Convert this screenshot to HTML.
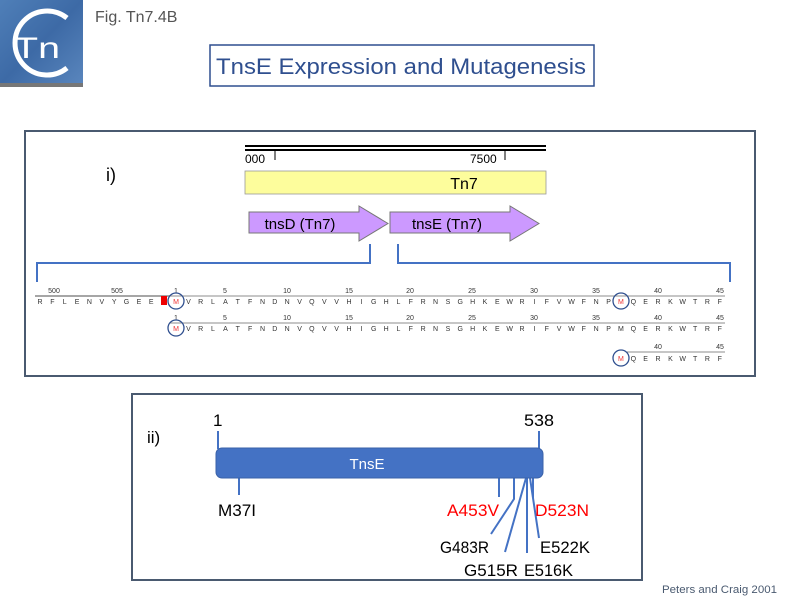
<!DOCTYPE html>
<html><head><meta charset="utf-8"><style>
html,body{margin:0;padding:0;background:#fff;}
svg{display:block;font-family:"Liberation Sans",sans-serif;}
</style></head><body>
<svg width="800" height="600" viewBox="0 0 800 600" xmlns="http://www.w3.org/2000/svg">
<defs>
<linearGradient id="lg" x1="0" y1="0" x2="1" y2="1">
<stop offset="0" stop-color="#4f7fb8"/><stop offset="0.5" stop-color="#3d6aa6"/><stop offset="1" stop-color="#5a86bd"/>
</linearGradient>
</defs>
<rect x="0" y="0" width="83" height="85" fill="url(#lg)"/>
<rect x="0" y="83" width="83" height="4" fill="#777"/>
<path d="M67 18 A32 32 0 1 0 67 68" fill="none" stroke="#fff" stroke-width="5"/>
<text x="14" y="58" font-size="30" fill="#fff" textLength="46" lengthAdjust="spacingAndGlyphs">Tn</text>
<text x="95" y="22" font-size="16" fill="#555">Fig. Tn7.4B</text>
<rect x="210" y="45" width="384" height="41" fill="#fff" stroke="#2f4f8f" stroke-width="1.5"/>
<text x="216" y="74" font-size="22" fill="#2f4f8f" textLength="370" lengthAdjust="spacingAndGlyphs">TnsE Expression and Mutagenesis</text>
<rect x="25" y="131" width="730" height="245" fill="#fff" stroke="#4a5a70" stroke-width="2"/>
<text x="106" y="181" font-size="18" fill="#000">i)</text>
<rect x="245" y="145" width="301" height="2" fill="#000"/>
<rect x="245" y="149" width="301" height="2" fill="#000"/>
<text x="245" y="163" font-size="12" fill="#000">000</text>
<line x1="275" y1="150" x2="275" y2="160" stroke="#000"/>
<text x="470" y="163" font-size="12" fill="#000">7500</text>
<line x1="505" y1="150" x2="505" y2="160" stroke="#000"/>
<rect x="245" y="171" width="301" height="23" fill="#fdfd9c" stroke="#999" stroke-width="0.8"/>
<text x="464" y="189" font-size="16" fill="#000" text-anchor="middle">Tn7</text>
<path d="M249 212 H359 V206 L388 223.5 L359 241 V233 H249 Z" fill="#cc99ff" stroke="#777"/>
<text x="300" y="229" font-size="15" fill="#000" text-anchor="middle">tnsD (Tn7)</text>
<path d="M390 212 H510 V206 L539 223.5 L510 241 V233 H390 Z" fill="#cc99ff" stroke="#777"/>
<text x="447" y="229" font-size="15" fill="#000" text-anchor="middle">tnsE (Tn7)</text>
<path d="M37 282 V263 H370 V244" fill="none" stroke="#4472c4" stroke-width="2"/>
<path d="M398 244 V263 H730 V282" fill="none" stroke="#4472c4" stroke-width="2"/>
<g font-size="7" fill="#333" text-anchor="middle">
<line x1="35" y1="296" x2="170" y2="296" stroke="#888" stroke-width="1.5"/>
<line x1="170" y1="296" x2="725" y2="296" stroke="#666" stroke-width="0.8"/>
<text x="54" y="293" font-size="7">500</text><text x="117" y="293" font-size="7">505</text>
<text x="176" y="293">1</text><text x="225" y="293">5</text><text x="287" y="293">10</text><text x="349" y="293">15</text><text x="410" y="293">20</text><text x="472" y="293">25</text><text x="534" y="293">30</text><text x="596" y="293">35</text><text x="658" y="293">40</text><text x="720" y="293">45</text>
<text y="304" x="40.0 52.4 64.7 77.1 89.4 101.8 114.2 126.5 138.9 151.2">RFLENVYGEE</text>
<rect x="161" y="296" width="6" height="9" fill="#e00"/>
<text x="176" y="304" fill="#e33">M</text>
<text y="304" x="188.4 200.7 213.0 225.4 237.8 250.1 262.5 274.8 287.2 299.6 311.9 324.3 336.6 349.0 361.4 373.7 386.1 398.4 410.8 423.2 435.5 447.9 460.2 472.6 485.0 497.3 509.7 522.0 534.4 546.8 559.1 571.5 583.8 596.2 608.6">VRLATFNDNVQVVHIGHLFRNSGHKEWRIFVWFNP</text>
<text x="620.9" y="304" fill="#e33">M</text>
<text y="304" x="633.3 645.6 658.0 670.4 682.7 695.1 707.4 719.8">QERKWTRF</text>
<line x1="170" y1="323" x2="725" y2="323" stroke="#666" stroke-width="0.8"/>
<text x="176" y="320">1</text><text x="225" y="320">5</text><text x="287" y="320">10</text><text x="349" y="320">15</text><text x="410" y="320">20</text><text x="472" y="320">25</text><text x="534" y="320">30</text><text x="596" y="320">35</text><text x="658" y="320">40</text><text x="720" y="320">45</text>
<text x="176" y="331" fill="#e33">M</text>
<text y="331" x="188.4 200.7 213.0 225.4 237.8 250.1 262.5 274.8 287.2 299.6 311.9 324.3 336.6 349.0 361.4 373.7 386.1 398.4 410.8 423.2 435.5 447.9 460.2 472.6 485.0 497.3 509.7 522.0 534.4 546.8 559.1 571.5 583.8 596.2 608.6 620.9 633.3 645.6 658.0 670.4 682.7 695.1 707.4 719.8">VRLATFNDNVQVVHIGHLFRNSGHKEWRIFVWFNPMQERKWTRF</text>
<line x1="627" y1="352" x2="725" y2="352" stroke="#666" stroke-width="0.8"/>
<text x="658" y="349">40</text><text x="720" y="349">45</text>
<text x="620.9" y="361" fill="#e33">M</text>
<text y="361" x="633.3 645.6 658.0 670.4 682.7 695.1 707.4 719.8">QERKWTRF</text>
</g>
<g fill="none" stroke="#2f4f8f" stroke-width="1.3">
<circle cx="176" cy="301" r="8"/><circle cx="621" cy="301" r="8"/>
<circle cx="176" cy="328" r="8"/><circle cx="621" cy="358" r="8"/>
</g>
<rect x="132" y="394" width="510" height="186" fill="#fff" stroke="#4a5a70" stroke-width="2"/>
<text x="147" y="443" font-size="17" fill="#000">ii)</text>
<text x="213" y="426" font-size="17" fill="#000">1</text>
<text x="524" y="426" font-size="17" fill="#000" textLength="30" lengthAdjust="spacingAndGlyphs">538</text>
<g stroke="#4472c4" stroke-width="2" fill="none">
<line x1="218" y1="431" x2="218" y2="449"/>
<line x1="539" y1="431" x2="539" y2="449"/>
<line x1="239" y1="478" x2="239" y2="495"/>
<line x1="499" y1="478" x2="499" y2="497"/>
<path d="M514 478 V499 L491 534"/>
<path d="M526 478 L505 552"/>
<line x1="527" y1="478" x2="527" y2="553"/>
<path d="M530 478 L539 538"/>
<line x1="533" y1="478" x2="533" y2="498"/>
</g>
<rect x="216" y="448" width="327" height="30" rx="6" fill="#4472c4" stroke="#3a62a8"/>
<text x="367" y="469" font-size="15" fill="#fff" text-anchor="middle">TnsE</text>
<g font-size="17" fill="#000" lengthAdjust="spacingAndGlyphs">
<text x="218" y="516" textLength="38" lengthAdjust="spacingAndGlyphs">M37I</text>
<text x="447" y="516" fill="#f00" textLength="52" lengthAdjust="spacingAndGlyphs">A453V</text>
<text x="535" y="516" fill="#f00" textLength="54" lengthAdjust="spacingAndGlyphs">D523N</text>
<text x="440" y="553" textLength="49" lengthAdjust="spacingAndGlyphs">G483R</text>
<text x="540" y="553" textLength="50" lengthAdjust="spacingAndGlyphs">E522K</text>
<text x="464" y="576" textLength="54" lengthAdjust="spacingAndGlyphs">G515R</text>
<text x="524" y="576" textLength="49" lengthAdjust="spacingAndGlyphs">E516K</text>
</g>
<text x="662" y="593" font-size="11" fill="#4a5a70" textLength="115" lengthAdjust="spacingAndGlyphs">Peters and Craig 2001</text>
</svg>
</body></html>
